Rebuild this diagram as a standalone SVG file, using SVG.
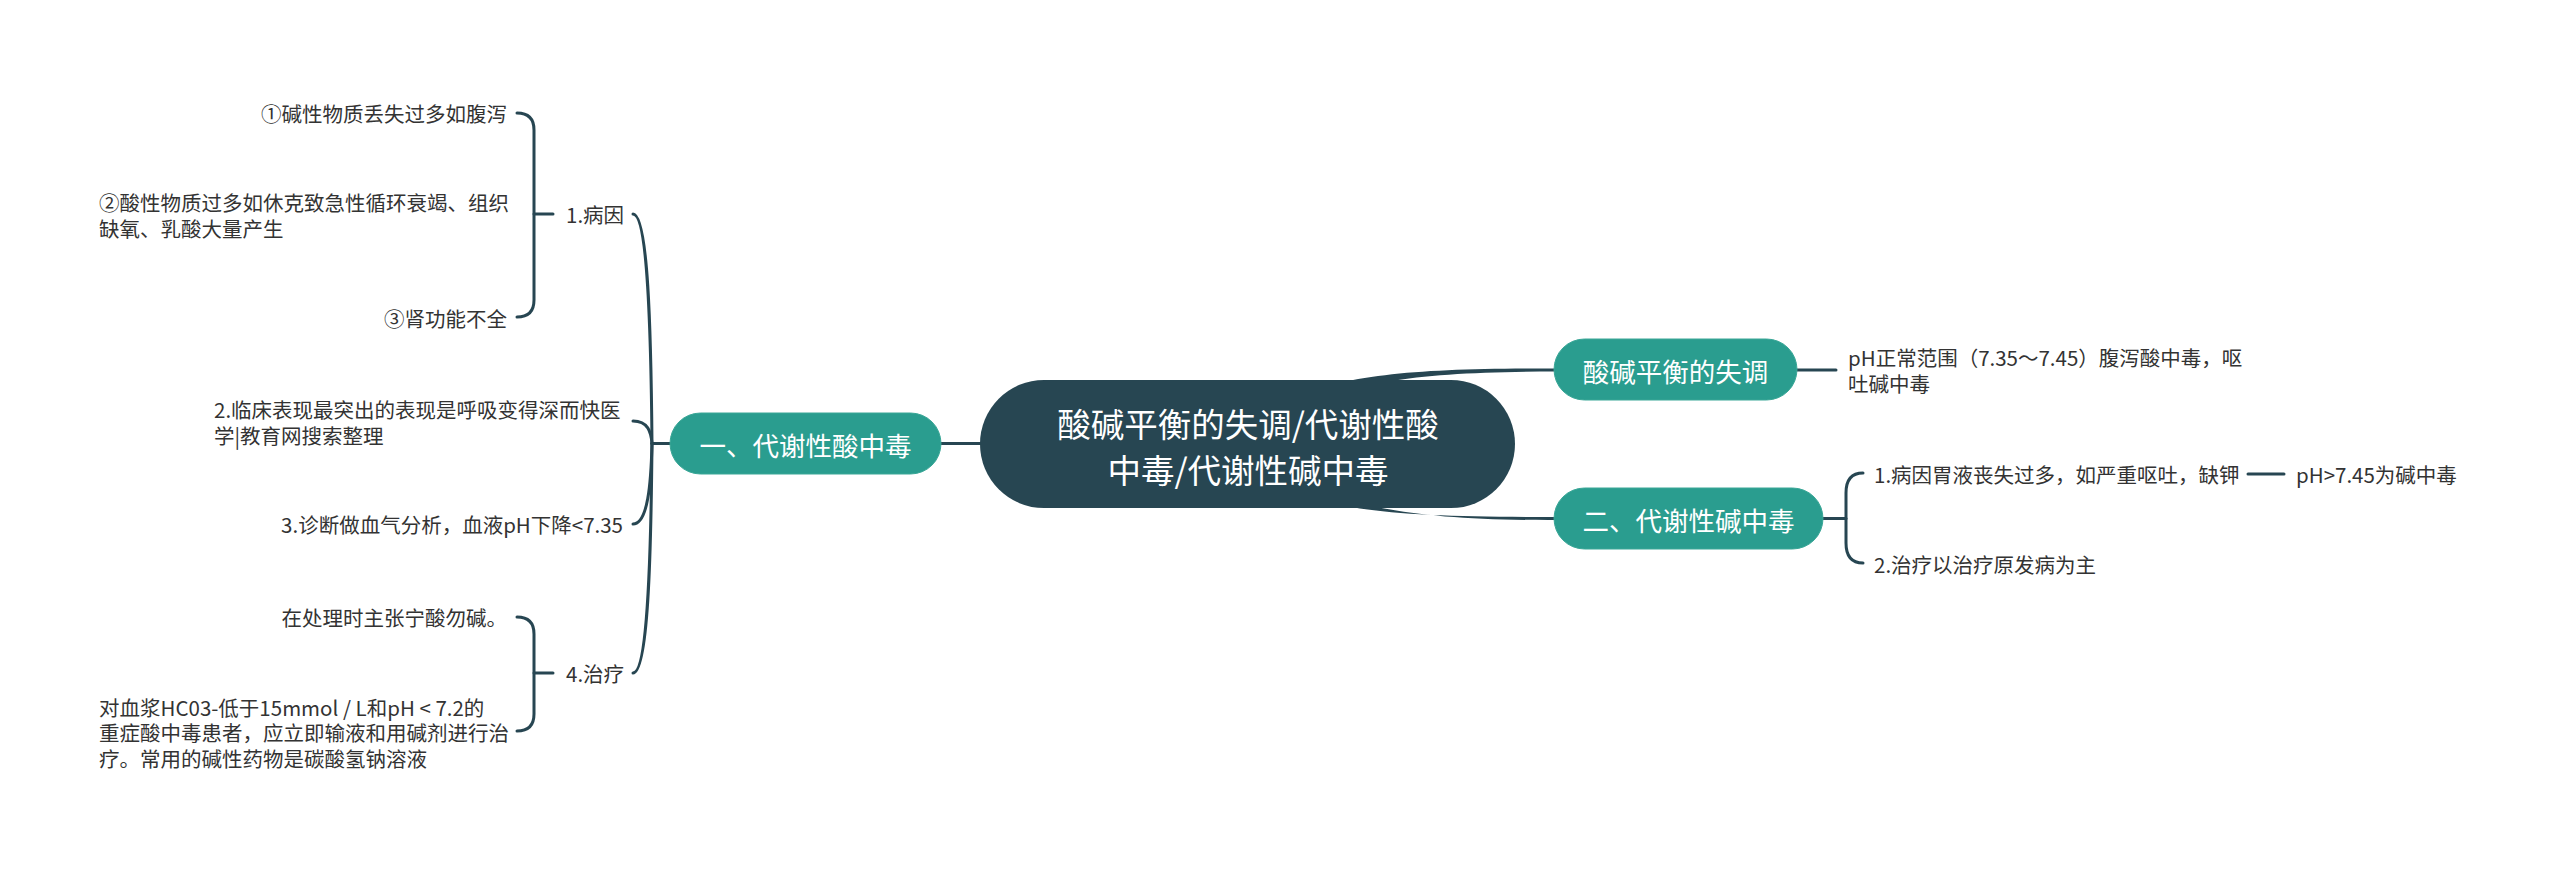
<svg xmlns="http://www.w3.org/2000/svg" width="2560" height="869" viewBox="0 0 2560 869">
<style>
.bg{fill:#ffffff}
.ln{fill:none;stroke:#274652;stroke-width:3;stroke-linecap:round}
.tp{fill:#274652;stroke:none}
.root{fill:#274652}
.main{fill:#2a9d8f;stroke:#3aa797;stroke-width:1}
.t{font-family:"Noto Sans CJK SC","Noto Sans",sans-serif;fill:#333333;font-size:20.5px;dominant-baseline:central}
.tw{font-family:"Noto Sans CJK SC","Noto Sans",sans-serif;fill:#ffffff;dominant-baseline:central;text-anchor:middle}
.e{text-anchor:end}
</style>
<rect class="bg" x="0" y="0" width="2560" height="869"/>
<g id="connectors">
  <!-- root to right main nodes (tapered) -->
  <path class="tp" d="M1290,398 C1350,374 1420,368 1556,368.5 L1556,371.5 C1420,371.5 1355,382 1295,408 Z"/>
  <path class="tp" d="M1290,490 C1350,514 1420,517 1556,517 L1556,520 C1420,520.5 1355,508 1295,480 Z"/>
  <!-- root to left main node -->
  <path class="ln" d="M941,443.5 L982,443.5"/>
  <!-- left main node to children -->
  <path class="ln" d="M670,443.5 L652,443.5"/>
  <path class="ln" d="M652,443.5 C651,328 648,214 633,214"/>
  <path class="ln" d="M652,443.5 C651,432 648,421 633,421"/>
  <path class="ln" d="M652,443.5 C651,483 648,524 633,524"/>
  <path class="ln" d="M652,443.5 C651,558 648,673 633,673"/>
  <!-- 1.病因 bracket -->
  <path class="ln" d="M553,214 L534,214"/>
  <path class="ln" d="M517,113 Q534,113 534,130 L534,300 Q534,317 517,317"/>
  <!-- 4.治疗 bracket -->
  <path class="ln" d="M553,673 L534,673"/>
  <path class="ln" d="M517,617 Q534,617 534,634 L534,714 Q534,731 517,731"/>
  <!-- 酸碱平衡的失调 to leaf -->
  <path class="ln" d="M1797,370 L1836,370"/>
  <!-- 二 node bracket -->
  <path class="ln" d="M1823,518.5 L1846,518.5"/>
  <path class="ln" d="M1863,473 Q1846,473 1846,493 L1846,543 Q1846,563 1863,563"/>
  <!-- 1.病因胃液 to pH>7.45 -->
  <path class="ln" d="M2248,474 L2284,474"/>
</g>
<g id="root">
  <rect class="root" x="980" y="380" width="535" height="128" rx="64" ry="64"/>
  <text class="tw" x="1248" y="422" font-size="33.5px">酸碱平衡的失调/代谢性酸</text>
  <text class="tw" x="1248" y="468" font-size="33.5px">中毒/代谢性碱中毒</text>
</g>
<g id="node-acidosis">
  <rect class="main" x="670" y="413" width="271" height="61" rx="30.5" ry="30.5"/>
  <text class="tw" x="805.5" y="444" font-size="26.5px">一、代谢性酸中毒</text>
</g>
<g id="node-balance">
  <rect class="main" x="1554" y="339" width="243" height="61" rx="30.5" ry="30.5"/>
  <text class="tw" x="1675.5" y="370" font-size="26.5px">酸碱平衡的失调</text>
</g>
<g id="node-alkalosis">
  <rect class="main" x="1554" y="488" width="269" height="61" rx="30.5" ry="30.5"/>
  <text class="tw" x="1688.5" y="519" font-size="26.5px">二、代谢性碱中毒</text>
</g>
<g id="node-cause">
  <text class="t" x="566" y="214">1.病因</text>
</g>
<g id="node-cause-1">
  <text class="t e" x="507" y="113">①碱性物质丢失过多如腹泻</text>
</g>
<g id="node-cause-2">
  <text class="t" x="99" y="202">②酸性物质过多如休克致急性循环衰竭、组织</text>
  <text class="t" x="99" y="228">缺氧、乳酸大量产生</text>
</g>
<g id="node-cause-3">
  <text class="t e" x="507" y="318">③肾功能不全</text>
</g>
<g id="node-clinical">
  <text class="t" x="214" y="409">2.临床表现最突出的表现是呼吸变得深而快医</text>
  <text class="t" x="214" y="435">学|教育网搜索整理</text>
</g>
<g id="node-diagnosis">
  <text class="t e" x="623" y="524">3.诊断做血气分析，血液pH下降&lt;7.35</text>
</g>
<g id="node-treatment">
  <text class="t" x="566" y="673">4.治疗</text>
</g>
<g id="node-treatment-1">
  <text class="t e" x="507" y="617">在处理时主张宁酸勿碱。</text>
</g>
<g id="node-treatment-2">
  <text class="t" x="99" y="707">对血浆HC03-低于15mmol / L和pH &lt; 7.2的</text>
  <text class="t" x="99" y="732">重症酸中毒患者，应立即输液和用碱剂进行治</text>
  <text class="t" x="99" y="758">疗。常用的碱性药物是碳酸氢钠溶液</text>
</g>
<g id="node-balance-leaf">
  <text class="t" x="1848" y="357">pH正常范围（7.35～7.45）腹泻酸中毒，呕</text>
  <text class="t" x="1848" y="383">吐碱中毒</text>
</g>
<g id="node-alk-cause">
  <text class="t" x="1874" y="474">1.病因胃液丧失过多，如严重呕吐，缺钾</text>
</g>
<g id="node-alk-ph">
  <text class="t" x="2296" y="474">pH&gt;7.45为碱中毒</text>
</g>
<g id="node-alk-treat">
  <text class="t" x="1874" y="564">2.治疗以治疗原发病为主</text>
</g>
</svg>
